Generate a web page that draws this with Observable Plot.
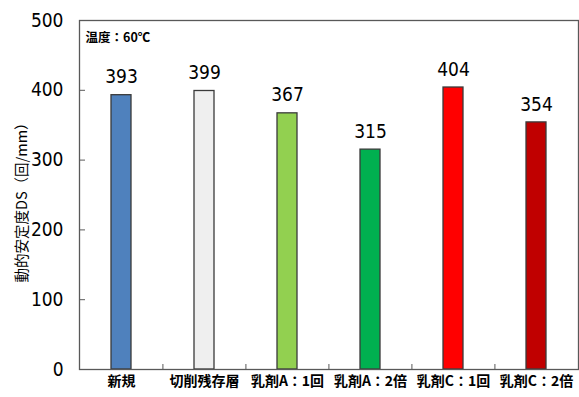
<!DOCTYPE html>
<html>
<head>
<meta charset="utf-8">
<script src="https://cdn.jsdelivr.net/npm/d3@7"></script>
<script src="https://cdn.jsdelivr.net/npm/@observablehq/plot@0.6"></script>
<style>
  html, body { margin: 0; padding: 0; background: #fff; }
  #chart svg { display: block; }
</style>
</head>
<body>
<div id="chart"></div>
<script>
// 動的安定度DS by sample type
const categories = ["新規", "切削残存層", "乳剤A：1回", "乳剤A：2倍", "乳剤C：1回", "乳剤C：2倍"];
const values = [393, 399, 367, 315, 404, 354];
const colors = ["#4F81BD", "#EFEFEF", "#92D050", "#00B050", "#FF0000", "#C00000"];
const yTicks = [0, 100, 200, 300, 400, 500];
const yTitle = "動的安定度DS（回/mm）";
const note = "温度：60℃";

const data = categories.map((c, i) => ({category: c, value: values[i], color: colors[i]}));

const width = 579, height = 397;
const marginLeft = 79, marginRight = 1, marginTop = 20, marginBottom = 28;
const plotW = width - marginLeft - marginRight;
const plotH = height - marginTop - marginBottom;
const step = plotW / categories.length;
const tick = 6;

const numFont = "'Liberation Sans Narrow', 'Arial Narrow', 'DejaVu Sans Condensed', sans-serif";
const cjkFont = "'Noto Sans CJK JP', 'Noto Sans CJK SC', sans-serif";

const chart = Plot.plot({
  width, height, marginLeft, marginRight, marginTop, marginBottom,
  style: {background: "#fff", fontFamily: numFont, color: "#000"},
  x: {domain: categories, paddingInner: 0.76, paddingOuter: 0.38, label: null},
  y: {domain: [0, 500], label: null},
  color: {domain: categories, range: colors},
  marks: [
    // inward ticks on the value axis
    Plot.ruleY(yTicks, {stroke: "#595959", strokeWidth: 1, insetRight: plotW - tick}),
    // short marks at the category boundaries
    Plot.ruleX(categories.slice(1), {stroke: "#595959", strokeWidth: 1, dx: -step / 2, insetTop: plotH - tick + 1}),
    Plot.barY(data, {x: "category", y: "value", fill: "category", stroke: "#3a3a3a", strokeWidth: 1.3}),
    Plot.text(data, {x: "category", y: "value", text: d => String(d.value), dy: -18,
      fontSize: 19, fontFamily: numFont, fill: "#000"}),
    Plot.frame({stroke: "#595959", strokeWidth: 1.3}),
    Plot.axisY({ticks: yTicks, tickSize: 0, tickPadding: 16, fontSize: 19, fontFamily: numFont, label: null}),
    Plot.axisX({tickSize: 0, tickPadding: 7, fontSize: 14, fontWeight: "bold", fontFamily: cjkFont, label: null}),
    Plot.text([yTitle], {frameAnchor: "left", text: d => d, rotate: -90, dx: -57, dy: 4,
      textAnchor: "middle", lineAnchor: "middle",
      fontSize: 14.5, fontFamily: cjkFont, fill: "#000"}),
    Plot.text([note], {frameAnchor: "top-left", text: d => d, dx: 6, dy: 13, textAnchor: "start",
      fontSize: 12.5, fontWeight: "bold", fontFamily: cjkFont, fill: "#000"})
  ]
});

document.getElementById("chart").appendChild(chart);
</script>
</body>
</html>
